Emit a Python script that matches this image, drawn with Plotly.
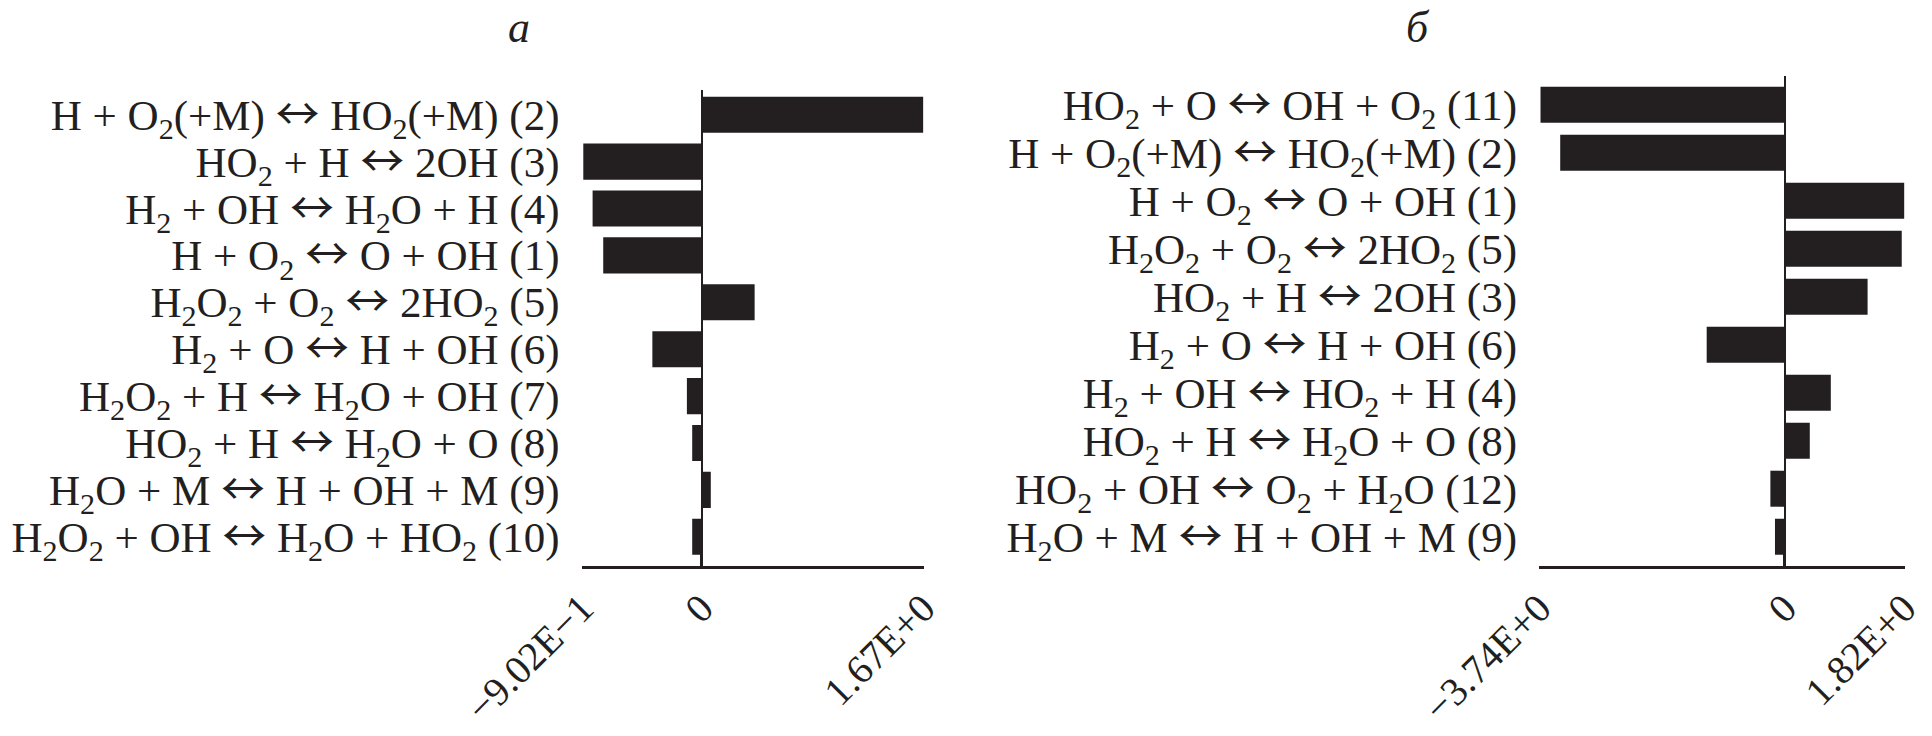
import plotly.graph_objects as go

# ---- data ----
ARW = '<span style="font-family:Noto Sans CJK JP;font-size:44px">↔</span>'

labels_a = [
    "H + O<sub>2</sub>(+M) " + ARW + " HO<sub>2</sub>(+M) (2)",
    "HO<sub>2</sub> + H " + ARW + " 2OH (3)",
    "H<sub>2</sub> + OH " + ARW + " H<sub>2</sub>O + H (4)",
    "H + O<sub>2</sub> " + ARW + " O + OH (1)",
    "H<sub>2</sub>O<sub>2</sub> + O<sub>2</sub> " + ARW + " 2HO<sub>2</sub> (5)",
    "H<sub>2</sub> + O " + ARW + " H + OH (6)",
    "H<sub>2</sub>O<sub>2</sub> + H " + ARW + " H<sub>2</sub>O + OH (7)",
    "HO<sub>2</sub> + H " + ARW + " H<sub>2</sub>O + O (8)",
    "H<sub>2</sub>O + M " + ARW + " H + OH + M (9)",
    "H<sub>2</sub>O<sub>2</sub> + OH " + ARW + " H<sub>2</sub>O + HO<sub>2</sub> (10)",
]
values_a = [1.67, -0.89, -0.82, -0.74, 0.40, -0.37, -0.11, -0.07, 0.07, -0.07]

labels_b = [
    "HO<sub>2</sub> + O " + ARW + " OH + O<sub>2</sub> (11)",
    "H + O<sub>2</sub>(+M) " + ARW + " HO<sub>2</sub>(+M) (2)",
    "H + O<sub>2</sub> " + ARW + " O + OH (1)",
    "H<sub>2</sub>O<sub>2</sub> + O<sub>2</sub> " + ARW + " 2HO<sub>2</sub> (5)",
    "HO<sub>2</sub> + H " + ARW + " 2OH (3)",
    "H<sub>2</sub> + O " + ARW + " H + OH (6)",
    "H<sub>2</sub> + OH " + ARW + " HO<sub>2</sub> + H (4)",
    "HO<sub>2</sub> + H " + ARW + " H<sub>2</sub>O + O (8)",
    "HO<sub>2</sub> + OH " + ARW + " O<sub>2</sub> + H<sub>2</sub>O (12)",
    "H<sub>2</sub>O + M " + ARW + " H + OH + M (9)",
]
values_b = [-3.72, -3.42, 1.82, 1.78, 1.26, -1.19, 0.70, 0.38, -0.22, -0.15]

tickvals_a = [-0.902, 0, 1.67]
ticktext_a = ["−9.02E−1", "0", "1.67E+0"]
tickvals_b = [-3.74, 0, 1.82]
ticktext_b = ["−3.74E+0", "0", "1.82E+0"]

panel_titles = ["a", "б"]

# ---- style ----
INK = "#231f20"
FONT = "Liberation Serif"
OFF = 8                     # default page body margin
W, H = 1932 - 2 * OFF, 736 - 2 * OFF

def px_x(p):
    return (p - OFF) / W

def px_y(p):
    return 1 - (p - OFF) / H

fig = go.Figure()
fig.add_trace(go.Bar(x=values_a, y=labels_a, orientation="h", width=0.77,
                     marker=dict(color=INK, line=dict(width=0)),
                     xaxis="x", yaxis="y", showlegend=False))
fig.add_trace(go.Bar(x=values_b, y=labels_b, orientation="h", width=0.75,
                     marker=dict(color=INK, line=dict(width=0)),
                     xaxis="x2", yaxis="y2", showlegend=False))

def xaxis_cfg(domain, rng, tv, tt, anchor):
    return dict(domain=domain, range=rng, anchor=anchor,
                tickmode="array", tickvals=tv, ticktext=tt,
                ticks="inside", ticklen=15, tickwidth=3, tickcolor=INK,
                showline=True, linecolor=INK, linewidth=3,
                zeroline=True, zerolinecolor=INK, zerolinewidth=2,
                showgrid=False, tickangle=-45, automargin=False,
                ticklabeloverflow="allow",
                tickfont=dict(family=FONT, size=40, color=INK))

def yaxis_cfg(domain, rng, anchor, cats):
    return dict(domain=domain, range=rng, anchor=anchor, type="category",
                categoryorder="array", categoryarray=cats,
                tickmode="array", tickvals=cats, ticktext=cats,
                showline=False, showgrid=False, zeroline=False, ticks="",
                ticklabelstandoff=21, automargin=False,
                tickfont=dict(family=FONT, size=43, color=INK))

fig.update_layout(
    width=W, height=H,
    margin=dict(l=0, r=0, t=0, b=0),
    paper_bgcolor="white", plot_bgcolor="white",
    xaxis=xaxis_cfg([px_x(581.5), px_x(923.5)], [-0.9035, 1.6715], tickvals_a, ticktext_a, "y"),
    yaxis=yaxis_cfg([px_y(565.7), px_y(90)], [9.616, -0.527], "x", labels_a),
    xaxis2=xaxis_cfg([px_x(1539), px_x(1904.5)], [-3.743, 1.822], tickvals_b, ticktext_b, "y2"),
    yaxis2=yaxis_cfg([px_y(565.7), px_y(75.7)], [9.604, -0.604], "x2", labels_b),
    annotations=[
        dict(text="<i>" + panel_titles[0] + "</i>", x=px_x(519), y=1, xref="paper", yref="paper",
             xanchor="center", yanchor="top", showarrow=False, yshift=7,
             font=dict(family=FONT, size=44, color=INK)),
        dict(text="<i>" + panel_titles[1] + "</i>", x=px_x(1418), y=1, xref="paper", yref="paper",
             xanchor="center", yanchor="top", showarrow=False, yshift=7,
             font=dict(family=FONT, size=44, color=INK)),
    ],
)

fig.write_html("out.html")
